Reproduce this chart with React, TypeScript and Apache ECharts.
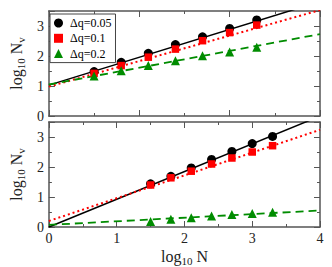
import React, { useEffect, useRef } from 'react';
import * as echarts from 'echarts';

const FONT = '"Liberation Serif", "Times New Roman", serif';

const seriesNames = ['Δq=0.05', 'Δq=0.1', 'Δq=0.2'];
const seriesColors = ['#000000', '#ff0000', '#008c00'];

const topX = [0.5, 0.8, 1.1, 1.4, 1.7, 2.0, 2.3];
const topCircles = [1.48, 1.79, 2.09, 2.38, 2.64, 2.92, 3.2];
const topSquares = [1.42, 1.68, 1.96, 2.23, 2.51, 2.78, 3.03];
const topTriangles = [1.33, 1.51, 1.68, 1.84, 2.01, 2.13, 2.29];

const bottomX = [1.5, 1.8, 2.1, 2.4, 2.7, 3.0, 3.3];
const bottomCircles = [1.44, 1.69, 1.97, 2.25, 2.52, 2.78, 3.02];
const bottomSquares = [1.4, 1.64, 1.86, 2.1, 2.3, 2.5, 2.71];
const bottomTriangles = [0.18, 0.26, 0.31, 0.37, 0.42, 0.45, 0.49];

const topFitIntercepts = [1.03, 0.98, 1.05];
const topFitSlopes = [0.928, 0.85, 0.56];
const bottomFitIntercepts = [0, 0.2, 0.07];
const bottomFitSlopes = [0.924, 0.76, 0.12];

const yTickLabels = [0, 1, 2, 3];
const xTickLabels = [0, 1, 2, 3, 4];

const AXIS_COLOR = '#555';
const LABEL_COLOR = '#222';

function fitLine(intercept: number, slope: number, xmax: number) {
  return [
    [0, intercept],
    [xmax, intercept + slope * xmax],
  ];
}

function zip(xs: number[], ys: number[]) {
  return xs.map((x, i) => [x, ys[i]]);
}

const nameRich = {
  a: { fontSize: 16, fontFamily: FONT, color: LABEL_COLOR },
  s: { fontSize: 11, fontFamily: FONT, color: LABEL_COLOR, padding: [9, 0, 0, 0] },
};

function xAxes(gridIndex: number, max: number, labels: boolean) {
  const base = {
    type: 'value',
    gridIndex,
    min: 0,
    max,
    interval: 1,
    splitLine: { show: false },
    axisLine: { show: true, onZero: false, lineStyle: { color: AXIS_COLOR, width: 1.5 } },
    axisTick: { show: true, inside: true, length: 6, lineStyle: { color: AXIS_COLOR } },
    minorTick: { show: true, splitNumber: 2, length: 3, lineStyle: { color: AXIS_COLOR } },
  };
  return [
    {
      ...base,
      position: 'bottom',
      axisLabel: labels
        ? {
            show: true,
            margin: 4,
            fontFamily: FONT,
            fontSize: 14,
            color: LABEL_COLOR,
            formatter: (v: number) => (xTickLabels.includes(v) ? String(v) : ''),
          }
        : { show: false },
      ...(labels
        ? {
            name: '{a|log}{s|10}{a| N}',
            nameLocation: 'middle',
            nameGap: 19,
            nameTextStyle: { fontFamily: FONT, fontSize: 16, color: LABEL_COLOR, rich: nameRich },
          }
        : {}),
    },
    { ...base, position: 'top', axisLabel: { show: false } },
  ];
}

function yAxes(gridIndex: number) {
  const common = {
    type: 'value',
    gridIndex,
    min: 0,
    max: 3.5,
    splitLine: { show: false },
  };
  const major = {
    ...common,
    interval: 1,
    axisLine: { show: true, onZero: false, lineStyle: { color: AXIS_COLOR, width: 1.5 } },
    axisTick: { show: true, inside: true, length: 6, lineStyle: { color: AXIS_COLOR } },
  };
  const minor = {
    ...common,
    interval: 0.5,
    axisLine: { show: false, onZero: false },
    axisTick: { show: true, inside: true, length: 3, lineStyle: { color: AXIS_COLOR } },
    axisLabel: { show: false },
  };
  return [
    {
      ...major,
      position: 'left',
      axisLabel: {
        show: true,
        margin: 5,
        fontFamily: FONT,
        fontSize: 14,
        color: LABEL_COLOR,
        formatter: (v: number) => (yTickLabels.includes(v) ? String(v) : ''),
      },
      name: '{a|log}{s|10}{a| N}{s|v}',
      nameLocation: 'middle',
      nameRotate: 90,
      nameGap: 17,
      nameTextStyle: { fontFamily: FONT, fontSize: 16, color: LABEL_COLOR, rich: nameRich },
    },
    { ...minor, position: 'left' },
    { ...major, position: 'right', axisLabel: { show: false } },
    { ...minor, position: 'right' },
  ];
}

const lineTypes: any[] = ['solid', [2, 3], [8, 5]];
const lineWidths = [1.5, 2, 1.8];
const symbols = ['circle', 'rect', 'triangle'];
const symbolSizes = [9, 7.5, 9];

function panelSeries(
  gi: number,
  xs: number[],
  ys: number[][],
  intercepts: number[],
  slopes: number[],
  xmax: number,
  withNames: boolean
) {
  const xi = gi * 2;
  const yi = gi * 4;
  const lines = intercepts.map((b, i) => ({
    type: 'line',
    xAxisIndex: xi,
    yAxisIndex: yi,
    data: fitLine(b, slopes[i], xmax),
    showSymbol: false,
    symbol: 'none',
    clip: true,
    lineStyle: { color: seriesColors[i], width: lineWidths[i], type: lineTypes[i] },
    silent: true,
    z: 2,
  }));
  const pts = ys.map((y, i) => ({
    type: 'scatter',
    name: withNames ? seriesNames[i] : undefined,
    xAxisIndex: xi,
    yAxisIndex: yi,
    data: zip(xs, y),
    symbol: symbols[i],
    symbolSize: symbolSizes[i],
    itemStyle: { color: seriesColors[i], opacity: 1 },
    z: 3 + i,
  }));
  return [...lines, ...pts];
}

export default function App() {
  const ref = useRef<HTMLDivElement>(null);
  useEffect(() => {
    if (!ref.current) return;
    const chart = echarts.init(ref.current, undefined, { renderer: 'svg' });
    chart.setOption({
      animation: false,
      backgroundColor: '#ffffff',
      textStyle: { fontFamily: FONT },
      grid: [
        { left: 40, top: 11, width: 280, height: 105 },
        { left: 40, top: 122, width: 280, height: 106 },
      ],
      legend: {
        data: seriesNames,
        orient: 'vertical',
        left: 50,
        top: 14,
        padding: [3, 4, 3, 4],
        itemGap: 3.3,
        itemWidth: 9,
        itemHeight: 9,
        borderColor: '#444',
        borderWidth: 1,
        backgroundColor: '#ffffff',
        selectedMode: false,
        textStyle: { fontFamily: FONT, fontSize: 12, color: '#000', padding: [0, 0, 0, 2] },
      },
      xAxis: [...xAxes(0, 3, false), ...xAxes(1, 4, true)],
      yAxis: [...yAxes(0), ...yAxes(1)],
      series: [
        ...panelSeries(0, topX, [topCircles, topSquares, topTriangles], topFitIntercepts, topFitSlopes, 3, true),
        ...panelSeries(1, bottomX, [bottomCircles, bottomSquares, bottomTriangles], bottomFitIntercepts, bottomFitSlopes, 4, false),
      ],
    });
    return () => chart.dispose();
  }, []);
  return <div ref={ref} style={{ width: 332, height: 267, position: 'absolute', left: 0, top: 0 }} />;
}
